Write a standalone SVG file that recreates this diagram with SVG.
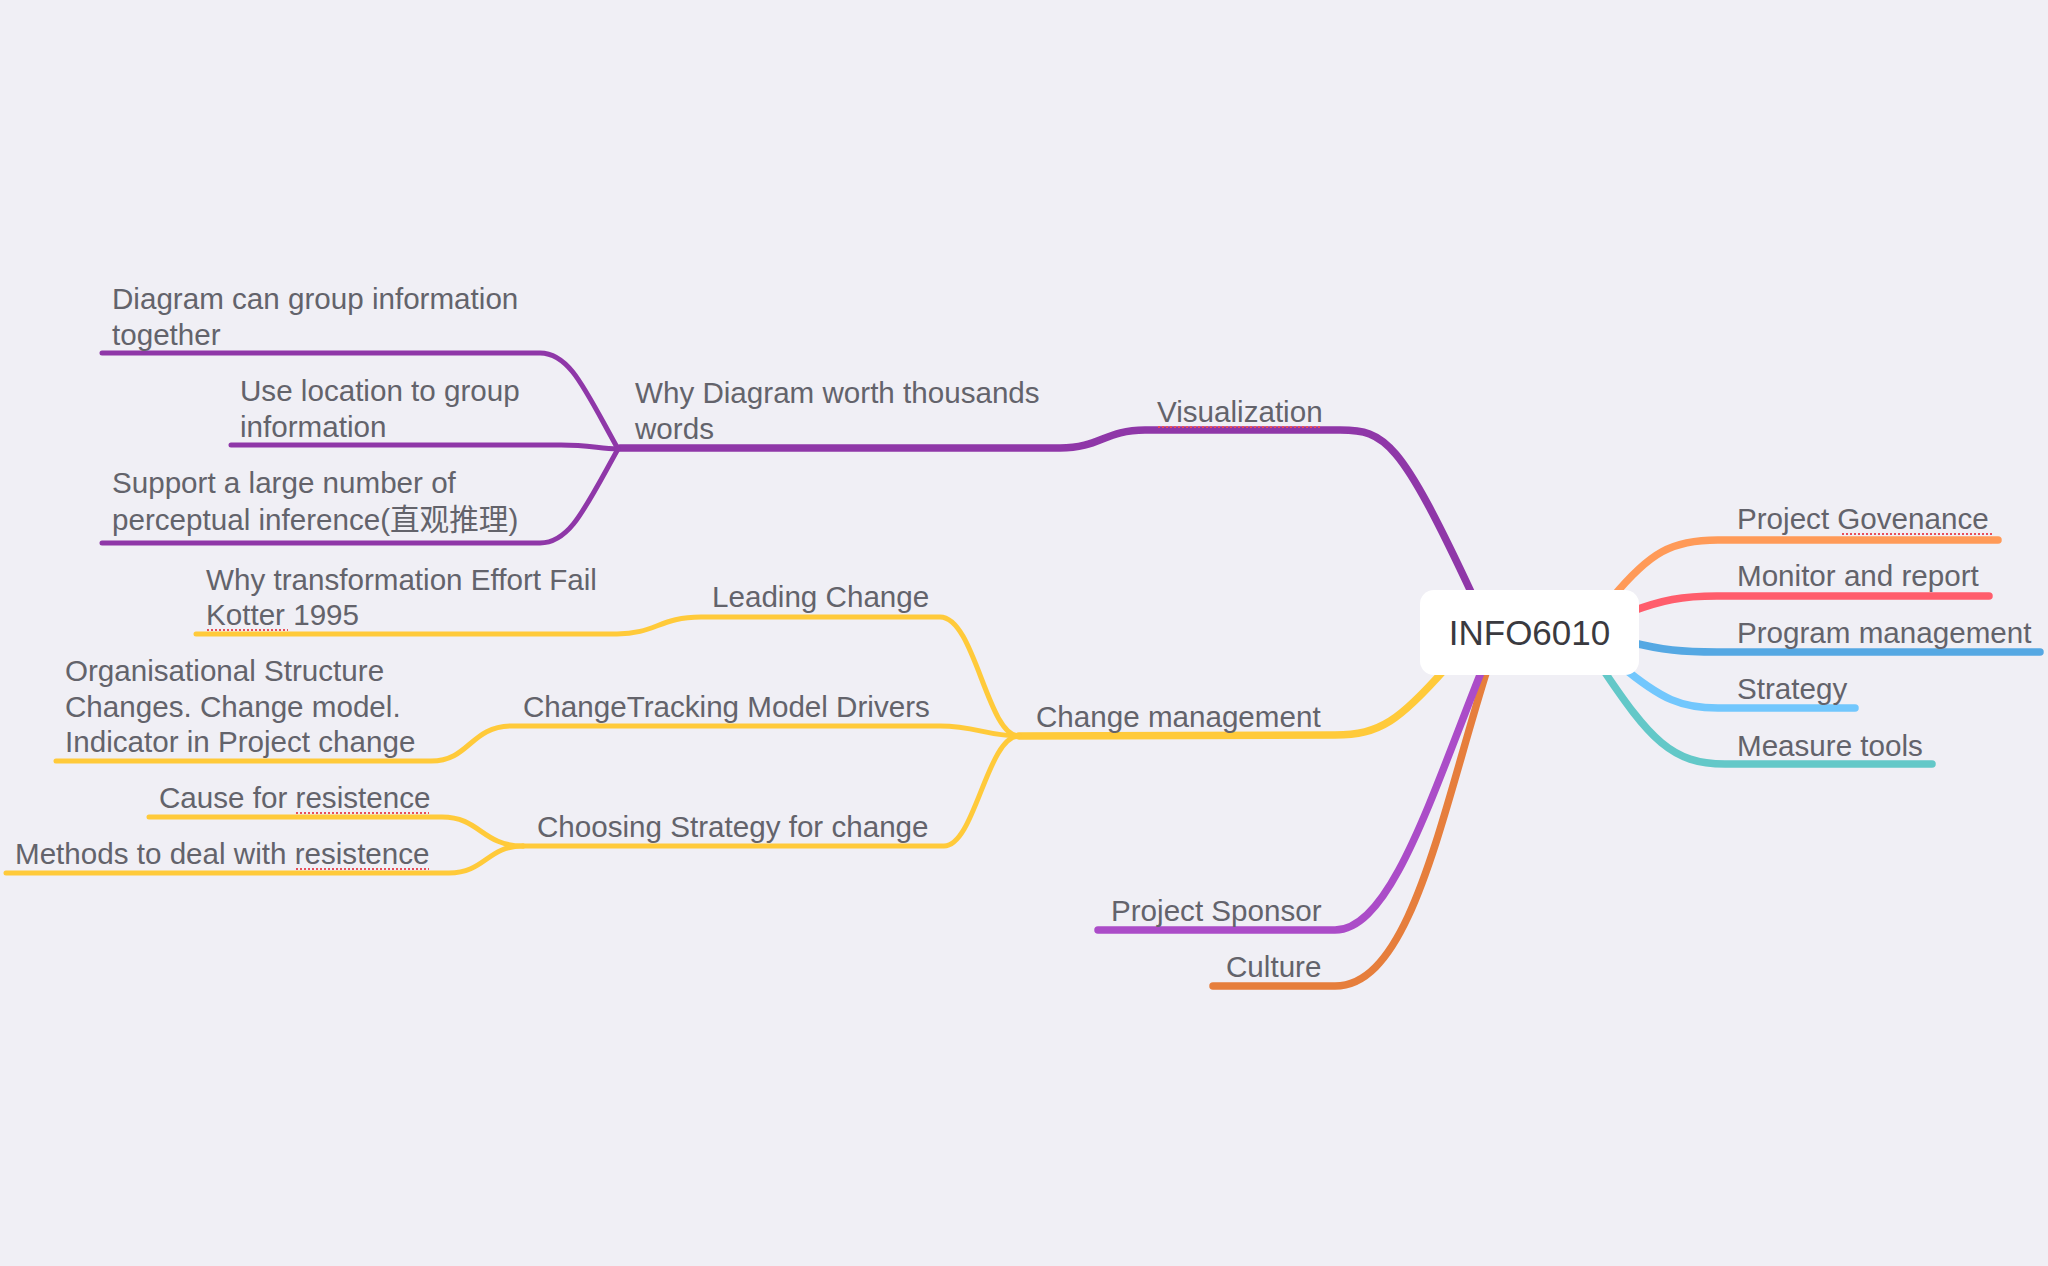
<svg xmlns="http://www.w3.org/2000/svg" width="2048" height="1266" viewBox="0 0 2048 1266">
<style>
.t{font-family:"Liberation Sans",Arial,"Noto Sans CJK SC",sans-serif;font-size:29.6px;fill:#63636b}
.c{fill:none;stroke-linecap:round;stroke-linejoin:round}
.m{stroke-width:7.5}
.s{stroke-width:5}
.sp{fill:none;stroke:#e8505a;stroke-width:2.2;stroke-dasharray:2 2}
.pu{stroke:#8f37a8}
.ye{stroke:#ffca3a}
</style>
<rect width="2048" height="1266" fill="#f0eff5"/>
<g id="connectors">
  <!-- Visualization -->
  <path class="c m pu" d="M1472,594 C1400,440 1385,430 1340,430 L1145,430 C1105,430 1100,448 1060,448 L620,448"/>
  <path class="c s pu" d="M618,449 C585,390 570,353 540,353 L102,353"/>
  <path class="c s pu" d="M618,449 C600,449 590,445 561,445 L231,445"/>
  <path class="c s pu" d="M618,449 C585,508 570,543 540,543 L102,543"/>
  <!-- Change management -->
  <path class="c m ye" d="M1446,668 C1400,720 1380,735 1335,735 L1019,736"/>
  <path class="c s ye" d="M1019,736 C987,736 975,617 940,617 L701,617 C660,617 655,634 617,634 L196,634"/>
  <path class="c s ye" d="M1019,736 C987,736 975,726 940,726 L512,726 C470,726 470,761 431,761 L56,761"/>
  <path class="c s ye" d="M1019,736 C987,736 975,846 944,846 L523,846"/>
  <path class="c s ye" d="M523,846 C482,846 480,817 442,817 L149,817"/>
  <path class="c s ye" d="M523,846 C487,846 485,873 449,873 L6,873"/>
  <!-- Right branches -->
  <path class="c m" stroke="#ff9a58" d="M1612,598 C1650,552 1672,540 1718,540 L1998,540"/>
  <path class="c m" stroke="#ff5d6c" d="M1630,612 C1662,600 1682,596 1717,596 L1989,596"/>
  <path class="c m" stroke="#55a8e3" d="M1630,642 C1662,650 1682,652 1717,652 L2040,652"/>
  <path class="c m" stroke="#72c7fd" d="M1620,665 C1662,700 1682,708 1718,708 L1855,708"/>
  <path class="c m" stroke="#63c8c8" d="M1600,665 C1650,740 1672,764 1725,764 L1932,764"/>
  <!-- Bottom branches -->
  <path class="c m" stroke="#e67e3c" d="M1487,670 C1440,820 1410,986 1335,986 L1213,986"/>
  <path class="c m" stroke="#ab4cc8" d="M1482,670 C1430,800 1390,930 1335,930 L1098,930"/>
</g>
<g id="root">
  <rect x="1420" y="590" width="219" height="85" rx="14" fill="#ffffff"/>
  <text x="1529.5" y="645" text-anchor="middle" font-family="Liberation Sans,Arial,sans-serif" font-size="35" fill="#3a3a3f">INFO6010</text>
</g>
<g id="visualization">
  <text class="t" x="1157" y="422">Visualization</text>
  <line class="sp" x1="1158" y1="427" x2="1321" y2="427"/>
</g>
<g id="why-diagram">
  <text class="t" x="635" y="403">Why Diagram worth thousands<tspan x="635" dy="36">words</tspan></text>
</g>
<g id="diagram-group">
  <text class="t" x="112" y="309">Diagram can group information<tspan x="112" dy="36">together</tspan></text>
</g>
<g id="use-location">
  <text class="t" x="240" y="401">Use location to group<tspan x="240" dy="36">information</tspan></text>
</g>
<g id="support-inference">
  <text class="t" x="112" y="493">Support a large number of<tspan x="112" dy="37">perceptual inference(直观推理)</tspan></text>
</g>
<g id="change-management">
  <text class="t" x="1036" y="727">Change management</text>
</g>
<g id="leading-change">
  <text class="t" x="712" y="607">Leading Change</text>
</g>
<g id="why-transformation">
  <text class="t" x="206" y="590">Why transformation Effort Fail<tspan x="206" dy="35">Kotter 1995</tspan></text>
  <line class="sp" x1="207" y1="630" x2="288" y2="630"/>
</g>
<g id="changetracking">
  <text class="t" x="523" y="717">ChangeTracking Model Drivers</text>
</g>
<g id="org-structure">
  <text class="t" x="65" y="681">Organisational Structure<tspan x="65" dy="35.5">Changes. Change model.</tspan><tspan x="65" dy="35.5">Indicator in Project change</tspan></text>
</g>
<g id="choosing-strategy">
  <text class="t" x="537" y="837">Choosing Strategy for change</text>
</g>
<g id="cause-resistence">
  <text class="t" x="159" y="808">Cause for resistence</text>
  <line class="sp" x1="296" y1="813" x2="429" y2="813"/>
</g>
<g id="methods-resistence">
  <text class="t" x="15" y="864">Methods to deal with resistence</text>
  <line class="sp" x1="296" y1="869" x2="429" y2="869"/>
</g>
<g id="project-govenance">
  <text class="t" x="1737" y="529">Project Govenance</text>
  <line class="sp" x1="1842" y1="534" x2="1993" y2="534"/>
</g>
<g id="monitor-report">
  <text class="t" x="1737" y="586">Monitor and report</text>
</g>
<g id="program-management">
  <text class="t" x="1737" y="643">Program management</text>
</g>
<g id="strategy">
  <text class="t" x="1737" y="699">Strategy</text>
</g>
<g id="measure-tools">
  <text class="t" x="1737" y="756">Measure tools</text>
</g>
<g id="project-sponsor">
  <text class="t" x="1111" y="921">Project Sponsor</text>
</g>
<g id="culture">
  <text class="t" x="1226" y="977">Culture</text>
</g>
</svg>
